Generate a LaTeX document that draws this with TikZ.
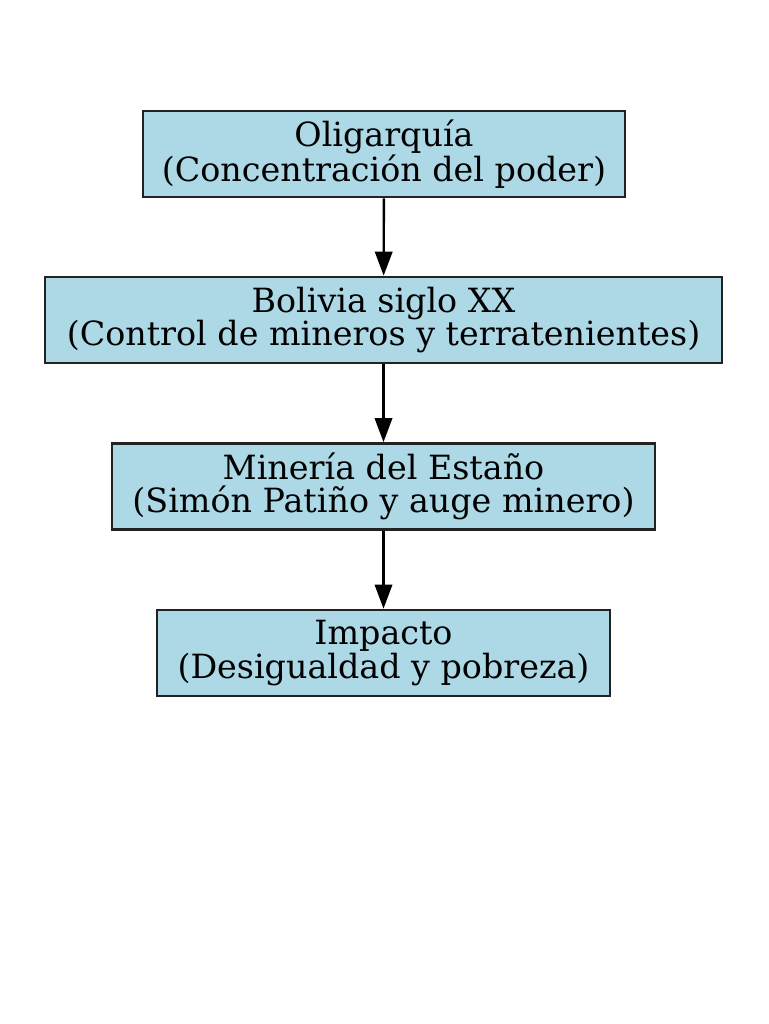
\documentclass[tikz,border=0pt]{standalone}
\usepackage{fontspec}
\setmainfont{DejaVu Serif}
\usetikzlibrary{arrows.meta}
\definecolor{boxblue}{HTML}{ADD8E6}
\definecolor{edgegray}{HTML}{222222}
\begin{document}
\begin{tikzpicture}[x=0.75pt,y=-0.75pt,
  box/.style={draw=edgegray,fill=boxblue,line width=2pt,minimum height=64.5pt,
    align=center,inner sep=0pt,font=\fontsize{25}{25}\selectfont},
  conn/.style={line width=1.8pt,-{Triangle[length=18pt,width=13pt]}}]
\useasboundingbox (0,0) rectangle (768,1024);
\fill[white] (0,0) rectangle (768,1024);
\node[box,minimum width=361.5pt] (a) at (384,154) {Oligarquía\\(Concentración del poder)};
\node[box,minimum width=507.75pt] (b) at (383.5,320) {Bolivia siglo XX\\(Control de mineros y terratenientes)};
\node[box,minimum width=407.25pt] (c) at (383.5,486.5) {Minería del Estaño\\(Simón Patiño y auge minero)};
\node[box,minimum width=339.75pt] (d) at (383.5,653) {Impacto\\(Desigualdad y pobreza)};
\draw[conn] (a) -- (b);
\draw[conn] (b) -- (c);
\draw[conn] (c) -- (d);
\end{tikzpicture}
\end{document}
